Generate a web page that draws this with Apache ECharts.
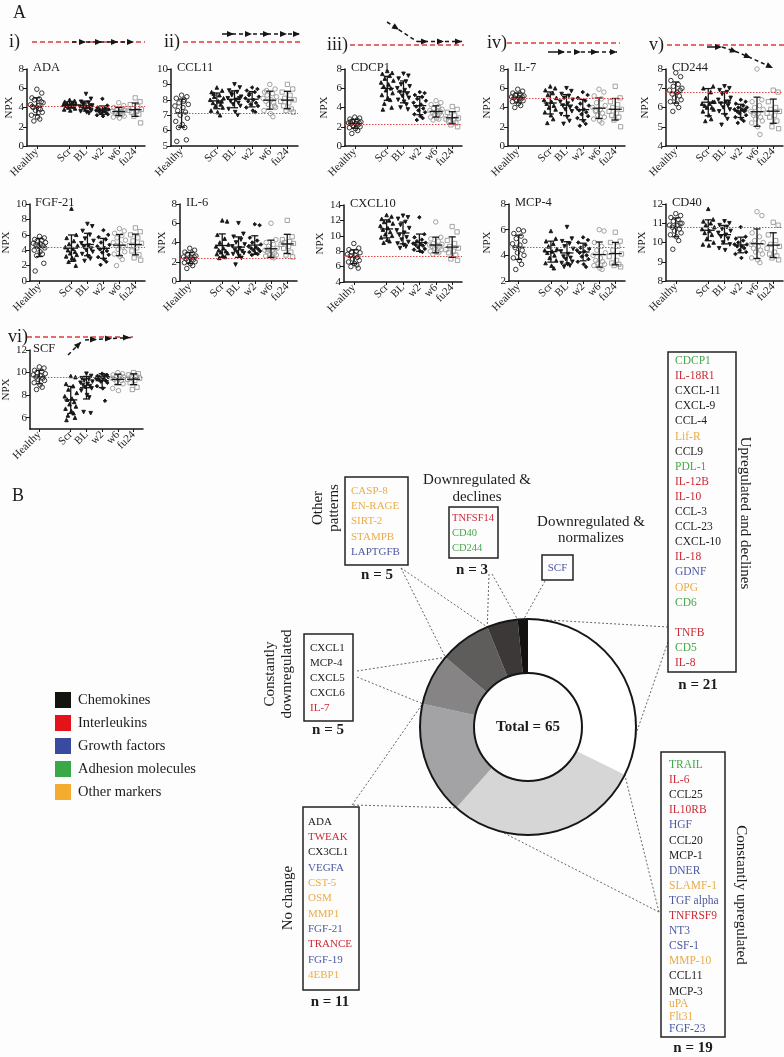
<!DOCTYPE html>
<html>
<head>
<meta charset="utf-8">
<script src="https://cdn.jsdelivr.net/npm/echarts@6/dist/echarts.min.js"></script>
<style>
html,body{margin:0;padding:0;background:#fdfdfd;}
#chart{width:784px;height:1057px;}
</style>
</head>
<body>
<div id="chart"></div>
<script>
// ---------------- DATA ----------------
const GROUPS = ['Healthy', 'Scr', 'BL', 'w2', 'w6', 'fu24'];
const GROUP_POS = [0, 2, 3, 4, 5, 6];

// each list: [Healthy, Scr, BL, w2, w6, fu24] NPX values
const ADA = [
  [5.9,5.5,5.0,4.9,4.8,4.5,4.3,4.2,4.0,3.8,3.7,3.5,3.2,3.0,2.8,2.6,4.6,4.1,3.9],
  [4.8,4.7,4.6,4.5,4.4,4.4,4.3,4.2,4.2,4.1,4.0,3.9,3.8,3.7,4.5,4.3],
  [5.4,4.9,4.6,4.5,4.3,4.2,4.1,4.0,4.0,3.9,3.8,3.7,3.6,3.5,3.4,4.4,4.2],
  [4.9,4.2,4.0,3.9,3.8,3.8,3.7,3.6,3.6,3.5,3.4,3.3,3.2,3.1,3.9,3.7],
  [4.5,4.2,4.0,3.9,3.8,3.7,3.6,3.5,3.4,3.3,3.2,3.1,3.0,2.9,3.6,3.5,3.7],
  [5.0,4.6,4.3,4.1,3.9,3.8,3.7,3.6,3.5,3.3,3.1,2.4]
];
const CCL11 = [
  [8.3,8.2,8.1,8.0,7.8,7.7,7.6,7.5,7.3,7.2,7.0,6.8,6.6,6.4,6.2,6.2,5.4,5.3,7.9],
  [8.8,8.6,8.5,8.3,8.2,8.1,8.0,7.9,7.8,7.7,7.6,7.5,7.3,7.2,7.0,8.4,7.9],
  [9.0,8.8,8.6,8.5,8.3,8.2,8.1,8.0,7.9,7.8,7.7,7.6,7.4,7.2,7.0,8.4,8.1],
  [8.8,8.7,8.6,8.5,8.4,8.2,8.1,8.0,7.9,7.8,7.7,7.6,7.5,7.3,7.2,8.3],
  [9.0,8.7,8.5,8.4,8.3,8.2,8.1,8.0,7.9,7.8,7.7,7.5,7.3,7.1,6.9,8.6,7.6],
  [9.0,8.7,8.5,8.3,8.1,8.0,7.9,7.8,7.6,7.4,7.3,7.2]
];
const CDCP1 = [
  [3.0,2.9,2.8,2.7,2.6,2.5,2.4,2.3,2.3,2.2,2.1,2.0,1.9,1.8,1.6,1.3,2.4,2.5],
  [7.8,7.6,7.5,7.3,7.0,6.8,6.6,6.4,6.2,6.0,5.8,5.5,5.3,5.0,4.8,4.4,4.0,3.8],
  [7.5,7.3,7.0,6.7,6.4,6.2,6.0,5.8,5.6,5.4,5.2,5.0,4.8,4.6,4.3,4.0,3.8],
  [5.6,5.5,5.3,5.1,4.9,4.7,4.5,4.3,4.1,3.9,3.7,3.5,3.3,3.1,2.9,2.7],
  [4.7,4.5,4.3,4.1,3.9,3.8,3.7,3.6,3.5,3.4,3.3,3.2,3.0,2.9,2.8,2.7,3.6],
  [4.1,3.8,3.5,3.2,3.0,2.9,2.8,2.7,2.6,2.4,2.2,2.0]
];
const IL7 = [
  [5.9,5.7,5.5,5.4,5.3,5.2,5.1,5.0,5.0,4.9,4.8,4.7,4.6,4.4,4.2,4.0,5.1],
  [6.2,6.0,5.8,5.5,5.3,5.0,4.8,4.6,4.4,4.2,4.0,3.8,3.5,3.2,2.8,2.4],
  [6.0,5.7,5.4,5.2,5.0,4.8,4.6,4.4,4.2,4.0,3.8,3.6,3.3,3.0,2.6,2.3],
  [5.6,5.3,5.0,4.7,4.4,4.2,4.0,3.8,3.7,3.5,3.3,3.1,2.9,2.6,2.3,2.1],
  [5.9,5.6,5.2,4.9,4.5,4.2,4.0,3.8,3.6,3.4,3.2,3.0,2.8,2.6,2.4,3.7],
  [6.2,5.0,4.6,4.3,4.0,3.8,3.6,3.4,3.2,3.0,2.7,2.0]
];
const CD244 = [
  [7.8,7.6,7.4,7.2,7.1,7.0,6.9,6.8,6.7,6.6,6.5,6.4,6.3,6.2,6.0,5.8,6.9],
  [8.2,7.1,7.0,6.8,6.5,6.3,6.2,6.2,6.1,6.0,6.0,5.9,5.8,5.6,5.4,5.3,6.3],
  [7.1,7.0,6.9,6.8,6.7,6.5,6.4,6.3,6.2,6.1,6.0,5.9,5.8,5.6,5.4,5.1,6.3],
  [6.4,6.3,6.2,6.1,6.0,6.0,5.9,5.9,5.8,5.8,5.7,5.6,5.5,5.4,5.3,5.2,5.9],
  [8.0,6.4,6.3,6.1,6.0,5.9,5.8,5.7,5.6,5.5,5.4,5.3,5.2,5.0,4.6,5.7],
  [6.9,6.8,6.3,6.0,5.9,5.8,5.7,5.6,5.5,5.3,5.0,4.9]
];
const FGF21 = [
  [5.8,5.6,5.4,5.3,5.2,5.0,4.9,4.8,4.7,4.6,4.5,4.3,4.0,3.8,3.5,3.3,2.3,1.3],
  [9.4,6.0,5.6,5.2,4.8,4.6,4.4,4.2,4.0,3.8,3.6,3.4,3.2,3.0,2.8,2.5,2.0],
  [7.4,7.1,6.5,6.0,5.5,5.2,4.9,4.6,4.4,4.2,4.0,3.8,3.5,3.2,2.9,2.6],
  [6.6,6.0,5.7,5.4,5.0,4.7,4.5,4.3,4.1,3.9,3.7,3.4,3.1,2.8,2.5,2.1],
  [6.8,6.5,6.2,5.9,5.6,5.3,5.0,4.8,4.6,4.4,4.1,3.8,3.5,3.2,2.8,2.0],
  [6.9,6.4,6.0,5.6,5.2,4.9,4.6,4.3,3.9,3.4,3.0,2.7]
];
const IL6 = [
  [3.4,3.2,3.0,2.9,2.8,2.6,2.5,2.4,2.3,2.2,2.1,2.0,1.9,1.8,1.6,1.3,2.5],
  [6.3,6.2,4.8,4.4,4.0,3.8,3.6,3.4,3.2,3.1,3.0,2.9,2.8,2.6,2.5,2.4],
  [6.0,4.9,4.6,4.3,4.0,3.8,3.6,3.4,3.2,3.1,3.0,2.9,2.8,2.6,2.4,1.7],
  [5.9,5.8,4.5,4.2,4.0,3.8,3.6,3.5,3.4,3.3,3.2,3.1,3.0,2.9,2.8,2.7],
  [6.0,4.3,4.0,3.8,3.6,3.4,3.2,3.1,3.0,2.9,2.8,2.7,2.6,2.5,2.4,3.3],
  [6.3,4.6,4.3,4.1,4.0,3.9,3.8,3.6,3.4,3.0,2.7,2.5]
];
const CXCL10 = [
  [9.0,8.4,8.2,8.0,7.9,7.8,7.6,7.5,7.4,7.2,7.0,6.8,6.6,6.4,6.2,6.0,5.8],
  [12.7,12.5,12.2,12.0,11.8,11.6,11.3,11.0,10.8,10.5,10.2,10.0,9.8,9.5,9.3,9.1],
  [12.6,12.4,12.2,11.8,11.4,11.0,10.7,10.4,10.1,9.8,9.5,9.2,9.0,8.8,8.6,8.4],
  [12.4,10.2,9.8,9.5,9.3,9.1,9.0,8.9,8.8,8.7,8.5,8.3,8.2,8.0,7.9],
  [11.8,9.8,9.6,9.3,9.0,8.9,8.8,8.7,8.6,8.5,8.4,8.2,8.0,7.9,7.8,7.6],
  [11.2,10.5,9.4,9.0,8.6,8.4,8.2,8.0,7.8,7.5,7.0,6.8]
];
const MCP4 = [
  [6.0,5.9,5.7,5.5,5.3,5.1,4.9,4.8,4.6,4.4,4.2,4.0,3.8,3.6,3.3,2.9],
  [5.9,5.3,5.1,4.9,4.7,4.5,4.4,4.3,4.2,4.0,3.8,3.6,3.4,3.2,3.0],
  [6.2,5.3,5.1,4.9,4.7,4.5,4.3,4.1,3.9,3.8,3.7,3.5,3.4,3.3,3.2,3.1],
  [5.4,5.2,5.0,4.8,4.6,4.5,4.4,4.3,4.2,4.0,3.9,3.7,3.5,3.3,3.1],
  [6.0,5.9,5.0,4.7,4.4,4.2,4.0,3.8,3.6,3.5,3.4,3.3,3.2,3.0,2.9],
  [5.8,5.1,5.0,4.7,4.4,4.1,3.9,3.6,3.4,3.3,3.2,3.1]
];
const CD40 = [
  [11.5,11.4,11.3,11.2,11.1,11.0,10.9,10.9,10.8,10.7,10.6,10.5,10.4,10.3,10.1,9.65,11.0],
  [11.75,11.2,11.1,11.0,10.9,10.8,10.7,10.6,10.5,10.4,10.2,10.0,9.9,9.85],
  [11.1,11.0,10.9,10.8,10.7,10.6,10.5,10.4,10.3,10.2,10.0,9.9,9.7,9.6],
  [10.8,10.3,10.2,10.1,10.0,9.9,9.9,9.8,9.8,9.7,9.6,9.5,9.4,9.2],
  [11.6,11.4,10.5,10.3,10.1,10.0,9.9,9.8,9.7,9.6,9.5,9.4,9.2,9.1,8.95],
  [11.05,10.9,10.4,10.1,9.9,9.8,9.7,9.5,9.4,9.3,9.2,9.1]
];
const SCF = [
  [10.5,10.4,10.2,10.1,10.0,9.9,9.8,9.7,9.6,9.5,9.4,9.3,9.1,8.9,8.7,8.5],
  [9.7,9.6,9.0,8.8,8.5,8.2,7.9,7.7,7.6,7.4,7.2,7.0,6.8,6.6,6.4,6.2,6.0,5.8],
  [9.9,9.7,9.5,9.4,9.3,9.2,9.1,9.0,8.9,8.8,8.7,8.6,8.4,8.0,7.8,6.5,6.4],
  [9.9,9.8,9.7,9.7,9.6,9.6,9.5,9.5,9.4,9.3,9.2,9.1,8.8,8.6,7.5],
  [10.0,9.9,9.8,9.7,9.6,9.6,9.5,9.5,9.4,9.3,9.2,9.0,8.6,8.4],
  [10.0,9.9,9.8,9.7,9.6,9.5,9.4,9.3,9.1,8.7,8.5]
];

// Panel B
const PIE_LABELS = ['Upregulated and declines', 'Constantly upregulated', 'No change',
  'Constantly downregulated', 'Other patterns', 'Downregulated & declines', 'Downregulated & normalizes'];
const PIE_COUNTS = [21, 19, 11, 5, 5, 3, 1];
const MARKER_CLASSES = ['Chemokines', 'Interleukins', 'Growth factors', 'Adhesion molecules', 'Other markers'];
const BOX_UP_DECLINES = [['CDCP1','A'],['IL-18R1','I'],['CXCL-11','C'],['CXCL-9','C'],['CCL-4','C'],['Lif-R','O'],
  ['CCL9','C'],['PDL-1','A'],['IL-12B','I'],['IL-10','I'],['CCL-3','C'],['CCL-23','C'],['CXCL-10','C'],['IL-18','I'],
  ['GDNF','G'],['OPG','O'],['CD6','A'],null,['TNFB','I'],['CD5','A'],['IL-8','I']];
const BOX_CONST_UP = [['TRAIL','A'],['IL-6','I'],['CCL25','C'],['IL10RB','I'],['HGF','G'],['CCL20','C'],['MCP-1','C'],
  ['DNER','G'],['SLAMF-1','O'],['TGF alpha','G'],['TNFRSF9','I'],['NT3','G'],['CSF-1','G'],['MMP-10','O'],['CCL11','C'],
  ['MCP-3','C'],['uPA','O'],['Flt31','O'],['FGF-23','G']];
const BOX_NO_CHANGE = [['ADA','C'],['TWEAK','I'],['CX3CL1','C'],['VEGFA','G'],['CST-5','O'],['OSM','O'],['MMP1','O'],
  ['FGF-21','G'],['TRANCE','I'],['FGF-19','G'],['4EBP1','O']];
const BOX_CONST_DOWN = [['CXCL1','C'],['MCP-4','C'],['CXCL5','C'],['CXCL6','C'],['IL-7','I']];
const BOX_OTHER = [['CASP-8','O'],['EN-RAGE','O'],['SIRT-2','O'],['STAMPB','O'],['LAPTGFB','G']];
const BOX_DOWN_DECLINES = [['TNFSF14','I'],['CD40','A'],['CD244','A']];
const BOX_DOWN_NORM = [['SCF','G']];

// ---------------- STYLE / LAYOUT ----------------
const FONT = '"Liberation Serif", "DejaVu Serif", serif';
const INK = '#161616';
const TEXT_COL = {C:'#1c1c1c', I:'#cc2a36', G:'#4c58a0', A:'#46a84a', O:'#eaac48'};
const LEGEND_COL = ['#15130f', '#e3121b', '#3a4aa0', '#3aa847', '#f4ac30'];
const PIE_COLORS = ['#ffffff', '#d7d6d7', '#a3a2a4', '#868485', '#5f5c5c', '#3b3837', '#121110'];
const JITTER = [0,0.3,-0.3,0.15,-0.15,0.38,-0.38,0.08,-0.22,0.22,-0.08,0.33,-0.33,0.04,0.18,-0.18,0.27,-0.27,0.12,-0.12];

const PANELS = [
  {name:'ADA',    data:ADA,    left:27,  top:69,  w:118, h:77, min:0, max:8,  step:2, gap:12, npx:true},
  {name:'CCL11',  data:CCL11,  left:171, top:69,  w:127, h:77, min:5, max:10, step:1, gap:14, npx:false},
  {name:'CDCP1',  data:CDCP1,  left:345, top:69,  w:117, h:77, min:0, max:8,  step:2, gap:15, npx:true},
  {name:'IL-7',   data:IL7,    left:508, top:69,  w:117, h:77, min:0, max:8,  step:2, gap:15, npx:true},
  {name:'CD244',  data:CD244,  left:666, top:69,  w:117, h:77, min:4, max:8,  step:1, gap:15, npx:true},
  {name:'FGF-21', data:FGF21,  left:29,  top:204, w:116, h:77, min:0, max:10, step:2, gap:17, npx:true},
  {name:'IL-6',   data:IL6,    left:180, top:204, w:117, h:77, min:0, max:8,  step:2, gap:12, npx:true},
  {name:'CXCL10', data:CXCL10, left:344, top:205, w:118, h:77, min:4, max:14, step:2, gap:16, npx:true},
  {name:'MCP-4',  data:MCP4,   left:509, top:204, w:116, h:77, min:2, max:8,  step:2, gap:16, npx:true},
  {name:'CD40',   data:CD40,   left:666, top:204, w:117, h:77, min:8, max:12, step:1, gap:17, npx:true},
  {name:'SCF',    data:SCF,    left:27,  top:350, w:116, h:79, min:5, max:12, ticks:[6,8,10,12], gap:12, npx:true}
];

const MARKERS = [
  {symbol:'circle', rot:0, fill:'transparent', border:'#222', size:4.5},
  {symbol:'triangle', rot:0, fill:INK, border:INK, size:3.6},
  {symbol:'triangle', rot:180, fill:INK, border:INK, size:3.6},
  {symbol:'diamond', rot:0, fill:INK, border:INK, size:3.6},
  {symbol:'circle', rot:0, fill:'transparent', border:'#9a9a9a', size:4.5},
  {symbol:'rect', rot:0, fill:'transparent', border:'#9a9a9a', size:4.3}
];

function mean(a){ return a.reduce((s,v)=>s+v,0)/a.length; }
function sd(a){ const m=mean(a); return Math.sqrt(a.reduce((s,v)=>s+(v-m)*(v-m),0)/(a.length-1)); }

function renderBar(params, api){
  const x = api.value(0), m = api.value(1), s = api.value(2);
  const c = api.coord([x, m]), t = api.coord([x, m+s]), b = api.coord([x, m-s]);
  const st = {stroke:INK, lineWidth:1.3};
  return {type:'group', children:[
    {type:'line', shape:{x1:c[0]-6.5,y1:c[1],x2:c[0]+6.5,y2:c[1]}, style:st},
    {type:'line', shape:{x1:t[0],y1:t[1],x2:b[0],y2:b[1]}, style:st},
    {type:'line', shape:{x1:t[0]-3.5,y1:t[1],x2:t[0]+3.5,y2:t[1]}, style:st},
    {type:'line', shape:{x1:b[0]-3.5,y1:b[1],x2:b[0]+3.5,y2:b[1]}, style:st}
  ]};
}

const grid = [], xAxis = [], yAxis = [], series = [];
PANELS.forEach((p, k) => {
  grid.push({left:p.left, top:p.top, width:p.w, height:p.h});
  xAxis.push({
    gridIndex:k, type:'value', min:-0.6, max:6.6,
    axisLine:{show:true, onZero:false, lineStyle:{color:INK, width:1.5}},
    axisTick:{show:true, customValues:GROUP_POS, length:3, lineStyle:{color:INK, width:1}},
    axisLabel:{customValues:GROUP_POS, formatter:v => GROUPS[GROUP_POS.indexOf(v)], rotate:45,
      fontSize:11, fontFamily:FONT, color:'#222', margin:4},
    splitLine:{show:false}
  });
  const ya = {
    gridIndex:k, type:'value', min:p.min, max:p.max,
    axisLine:{show:true, onZero:false, lineStyle:{color:INK, width:1.5}},
    axisTick:{show:true, length:4, lineStyle:{color:INK, width:1}},
    axisLabel:{fontSize:11, fontFamily:FONT, color:'#222', margin:3},
    splitLine:{show:false},
    name:p.npx ? 'NPX' : '', nameLocation:'middle', nameGap:p.gap,
    nameTextStyle:{fontSize:11, fontFamily:FONT, color:'#222'}
  };
  if (p.ticks) { ya.axisLabel.customValues = p.ticks; ya.axisTick.customValues = p.ticks; }
  else ya.interval = p.step;
  yAxis.push(ya);

  p.data.forEach((vals, g) => {
    const mk = MARKERS[g];
    const s = {
      type:'scatter', xAxisIndex:k, yAxisIndex:k, silent:true, z:2,
      symbol:mk.symbol, symbolRotate:mk.rot, symbolSize:mk.size,
      itemStyle:{color:mk.fill, borderColor:mk.border, borderWidth:0.9, opacity:1},
      data: vals.map((v,i) => [GROUP_POS[g] + JITTER[i % JITTER.length], v])
    };
    if (g === 0) {
      s.markLine = {silent:true, symbol:['none','none'], label:{show:false},
        lineStyle:{color:'#e04848', type:[1.5,1.5], width:1}, animation:false,
        data:[{yAxis: mean(vals)}]};
    }
    series.push(s);
  });
  series.push({
    type:'custom', xAxisIndex:k, yAxisIndex:k, silent:true, z:3, renderItem:renderBar,
    data: p.data.map((vals,g) => [GROUP_POS[g], mean(vals), sd(vals)])
  });
});

// Pie (panel B)
const PIE_C = [528, 727], PIE_R = [54, 108];
series.push({
  type:'pie', center:PIE_C, radius:PIE_R, startAngle:90, clockwise:true, silent:true, z:3,
  label:{show:false}, labelLine:{show:false}, emphasis:{disabled:true},
  data: PIE_LABELS.map((n,i) => ({name:n, value:PIE_COUNTS[i], itemStyle:{color:PIE_COLORS[i], borderWidth:0}}))
});
series.push({
  type:'pie', center:PIE_C, radius:PIE_R, silent:true, z:4,
  label:{show:false}, labelLine:{show:false}, emphasis:{disabled:true},
  data:[{value:1, itemStyle:{color:'transparent', borderColor:INK, borderWidth:2}}]
});

// ---------------- GRAPHICS (annotations) ----------------
const G = [];
function txt(x, y, text, o = {}) {
  G.push({type:'text', x, y, rotation:o.rot || 0, silent:true, z:50,
    style:{text, fontFamily:FONT, fontSize:o.size || 11, fontWeight:o.bold ? 'bold' : 'normal',
      fill:o.color || '#1c1c1c', textAlign:o.align || 'left', textVerticalAlign:'middle',
      lineHeight:o.lh || undefined}});
}
function line(pts, color, dash, width) {
  G.push({type:'polyline', silent:true, z:40, shape:{points:pts},
    style:{stroke:color, fill:null, lineWidth:width || 1.5, lineDash:dash || null}});
}
function head(x, y, ang) {
  const L = 7, W = 3;
  const c = Math.cos(ang), s = Math.sin(ang);
  G.push({type:'polygon', silent:true, z:41, shape:{points:[[x,y],[x-L*c+W*s, y-L*s-W*c],[x-L*c-W*s, y-L*s+W*c]]},
    style:{fill:INK}});
}
const RED = '#e03a3a';
// panel labels
txt(13, 13, 'A', {size:18});
txt(12, 496, 'B', {size:18});
PANELS.forEach(p => txt(p.left + 6, p.top - 1, p.name, {size:12.5}));
// roman numerals + schematics
txt(9, 42, 'i)', {size:18}); txt(164, 42, 'ii)', {size:18}); txt(327, 45, 'iii)', {size:18});
txt(487, 43, 'iv)', {size:18}); txt(649, 45, 'v)', {size:18}); txt(8, 337, 'vi)', {size:18});
const DASH = [4, 3], RDASH = [5, 3];
// i
line([[32,42],[145,42]], RED, RDASH);
line([[72,42],[134,42]], INK, DASH);
[86,102,118,134].forEach(x => head(x, 42, 0));
// ii
line([[183,42],[300,42]], RED, RDASH);
line([[222,34],[232,34]], INK, null);
line([[232,34],[300,34]], INK, DASH);
[234,252,270,287,300].forEach(x => head(x, 34, 0));
// iii
line([[350,45],[464,45]], RED, RDASH);
line([[387,22],[417,41.5]], INK, DASH);
head(399, 29.7, Math.atan2(19.5, 30));
line([[417,41.5],[462,41.5]], INK, DASH);
[428,444,462].forEach(x => head(x, 41.5, 0));
// iv
line([[507,43],[620,43]], RED, RDASH);
line([[548,52],[560,52]], INK, null);
line([[560,52],[617,52]], INK, DASH);
[565,581,598,617].forEach(x => head(x, 52, 0));
// v
line([[667,45],[784,45]], RED, RDASH);
line([[707,47],[720,47]], INK, null);
head(722, 47, 0);
line([[722,47],[737,52],[751,58],[773,68]], INK, DASH);
head(737, 52, Math.atan2(5, 15)); head(751, 58, Math.atan2(6, 14)); head(773, 68, Math.atan2(10, 22));
// vi
line([[27,337],[133,337]], RED, RDASH);
line([[68,355],[82,341]], INK, DASH);
head(81, 342, Math.atan2(-13, 13));
line([[85,340],[131,337.5]], INK, DASH);
[97,112,130].forEach(x => head(x, x < 100 ? 339.5 : (x < 120 ? 338.5 : 337.5), 0));

// legend
MARKER_CLASSES.forEach((n, i) => {
  const y = [700, 723, 746, 769, 792][i];
  G.push({type:'rect', silent:true, z:50, shape:{x:55, y:y-8, width:16, height:16}, style:{fill:LEGEND_COL[i]}});
  txt(78, y, n, {size:14.5});
});

// boxes
function box(items, r, tx, y0, lh, opts = {}) {
  G.push({type:'rect', silent:true, z:45, shape:{x:r[0], y:r[1], width:r[2], height:r[3]},
    style:{stroke:'#222', fill:'#fdfdfd', lineWidth:1.5}});
  let y = y0;
  items.forEach((it, i) => {
    if (it) txt(opts.center ? r[0] + r[2]/2 : tx, y, it[0], {size:opts.size || 11.5, color:TEXT_COL[it[1]], align:opts.center ? 'center' : 'left'});
    y += (opts.tightFrom !== undefined && i >= opts.tightFrom) ? opts.tightLh : lh;
  });
}
const TOTAL = PIE_COUNTS.reduce((a,b)=>a+b,0);
// connectors (box point -> position on the ring, in count units)
const CONNECT = [
  [401,568,61],[401,568,56],[489,574,61],[492,574,64],[545,581,64.6],
  [668,627,0.4],[668,642,17],[357,671,56],[357,677,51],
  [352,805,51],[353,805,40],[659,912,21],[659,912,35.1]
];
CONNECT.forEach(([x,y,c]) => {
  const a = c / TOTAL * 2 * Math.PI;
  G.push({type:'line', silent:true, z:1, shape:{x1:x, y1:y, x2:PIE_C[0] + PIE_R[1]*Math.sin(a), y2:PIE_C[1] - PIE_R[1]*Math.cos(a)},
    style:{stroke:'#555', lineWidth:0.9, lineDash:[2,2]}});
});

box(BOX_OTHER, [345,477,63,88], 351, 491, 15.3, {size:11});
box(BOX_DOWN_DECLINES, [449,507,49,51], 452, 518, 15, {size:10.5});
box(BOX_DOWN_NORM, [542,555,31,25], 0, 568, 15, {center:true, size:11});
box(BOX_UP_DECLINES, [668,352,68,320], 675, 361, 15.1, {size:11.5});
box(BOX_CONST_DOWN, [304,634,49,87], 310, 648, 15, {size:11});
box(BOX_NO_CHANGE, [303,807,56,183], 308, 822, 15.3, {size:11});
box(BOX_CONST_UP, [661,752,64,285], 669, 765, 15.1, {tightFrom:15, tightLh:12.5, size:11.5});

// group titles
txt(326, 508, 'Other\npatterns', {size:15, rot:Math.PI/2, align:'center', lh:16});
txt(477, 489, 'Downregulated &\ndeclines', {size:15, align:'center', lh:17});
txt(591, 530, 'Downregulated &\nnormalizes', {size:15, align:'center', lh:16});
txt(745, 513, PIE_LABELS[0], {size:15, rot:-Math.PI/2, align:'center'});
txt(279, 674, 'Constantly\ndownregulated', {size:15, rot:Math.PI/2, align:'center', lh:17});
txt(288, 898, PIE_LABELS[2], {size:15, rot:Math.PI/2, align:'center'});
txt(741, 895, PIE_LABELS[1], {size:15, rot:-Math.PI/2, align:'center'});
// n labels
const N_POS = [[698,685],[693,1048],[330,1002],[328,730],[377,575],[472,570]];
N_POS.forEach((p, i) => txt(p[0], p[1], 'n = ' + PIE_COUNTS[i], {size:15, bold:true, align:'center'}));
txt(PIE_C[0], PIE_C[1], 'Total = ' + TOTAL, {size:15, bold:true, align:'center'});

const chart = echarts.init(document.getElementById('chart'), null, {renderer:'canvas'});
chart.setOption({
  backgroundColor:'#fdfdfd',
  animation:false,
  textStyle:{fontFamily:FONT},
  grid, xAxis, yAxis, series,
  graphic:{elements:G}
});
</script>
</body>
</html>
